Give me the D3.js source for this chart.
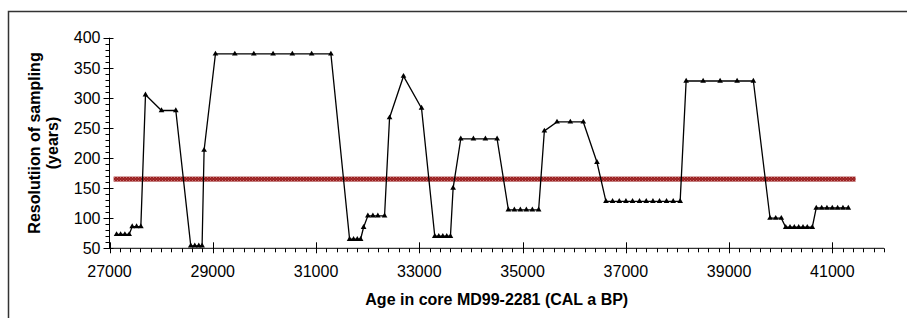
<!DOCTYPE html>
<html>
<head>
<meta charset="utf-8">
<script src="https://cdn.jsdelivr.net/npm/d3@7"></script>
<style>
  html, body { margin: 0; padding: 0; background: #fff; }
  svg { display: block; }
  text { font-family: "Liberation Sans", Arial, sans-serif; fill: #000; }
</style>
</head>
<body>
<svg id="chart" width="907" height="318"></svg>
<script>
// ---- Data ----
const ages = [27137, 27215, 27298, 27381, 27440, 27524, 27607, 27697, 28007, 28284,
  28574, 28652, 28729, 28793, 28832, 29052, 29427, 29795, 30168, 30541, 30915, 31288,
  31650, 31727, 31799, 31863, 31921, 32004, 32101, 32197, 32327, 32424, 32694, 33043,
  33300, 33377, 33455, 33532, 33603, 33655, 33803, 34048, 34280, 34507,
  34725, 34841, 34957, 35073, 35189, 35311, 35422, 35667, 35925, 36176, 36441,
  36615, 36743, 36873, 37002, 37130, 37265, 37395, 37525, 37652, 37788, 37917, 38052,
  38168, 38497, 38826, 39155, 39470, 39793, 39903, 40011,
  40097, 40180, 40263, 40348, 40431, 40514, 40611,
  40688, 40793, 40895, 40998, 41102, 41205, 41308];
const resolution = [73, 73, 73, 73, 86, 86, 86, 305, 279, 279,
  54, 54, 54, 54, 213, 373, 373, 373, 373, 373, 373, 373,
  65, 65, 65, 65, 85, 104, 104, 104, 104, 267, 336, 283,
  70, 70, 70, 70, 70, 150, 232, 232, 232, 232,
  114, 114, 114, 114, 114, 114, 245, 260, 260, 260, 193,
  128, 128, 128, 128, 128, 128, 128, 128, 128, 128, 128, 128,
  328, 328, 328, 328, 328, 100, 100, 100,
  85, 85, 85, 85, 85, 85, 85,
  117, 117, 117, 117, 117, 117, 117];
const thresholdAges = [27080, 41450];
const thresholdValue = 165;
const xTickLabels = [27000, 29000, 31000, 33000, 35000, 37000, 39000, 41000];
const yTickLabels = [50, 100, 150, 200, 250, 300, 350, 400];
const xDomain = [27000, 42000];
const yDomain = [50, 400];
const xTitle = "Age in core MD99-2281 (CAL a BP)";
const yTitleLines = ["Resolutiion of sampling", "(years)"];

// ---- Layout ----
const svg = d3.select("#chart");
const pLeft = 109.5, pRight = 884, pTop = 37.7, pBottom = 248.3;
const x = d3.scaleLinear().domain(xDomain).range([pLeft, pRight]);
const y = d3.scaleLinear().domain(yDomain).range([pBottom, pTop]);

// outer frame
svg.append("rect").attr("x", 8.5).attr("y", 11.5).attr("width", 920).attr("height", 330)
  .attr("fill", "none").attr("stroke", "#333").attr("stroke-width", 1.5);

// pattern for threshold line
const defs = svg.append("defs");
const pat = defs.append("pattern").attr("id", "redpat").attr("patternUnits", "userSpaceOnUse")
  .attr("width", 3).attr("height", 3);
pat.append("rect").attr("width", 3).attr("height", 3).attr("fill", "#9a2020");
pat.append("rect").attr("x", 0).attr("y", 0).attr("width", 1).attr("height", 1).attr("fill", "#c87070");
pat.append("rect").attr("x", 1.5).attr("y", 1.5).attr("width", 1).attr("height", 1).attr("fill", "#b85050");

// threshold line (thick band)
svg.append("rect")
  .attr("x", x(thresholdAges[0])).attr("width", x(thresholdAges[1]) - x(thresholdAges[0]))
  .attr("y", y(thresholdValue) - 2.5).attr("height", 5)
  .attr("fill", "url(#redpat)");

// Y axis
const gy = svg.append("g").attr("transform", `translate(${pLeft},0)`);
gy.append("line").attr("x1", 0).attr("x2", 0).attr("y1", y(yDomain[0])).attr("y2", y(yDomain[1]))
  .attr("stroke", "#000").attr("stroke-width", 1);
const yMinor = d3.range(yDomain[0], yDomain[1] + 0.1, 10);
gy.selectAll(".ymin").data(yMinor).join("line")
  .attr("x1", -4).attr("x2", 0).attr("y1", d => Math.round(y(d)) + 0.5).attr("y2", d => Math.round(y(d)) + 0.5)
  .attr("stroke", "#000").attr("stroke-width", 1);
gy.selectAll(".ymaj").data(yTickLabels).join("line")
  .attr("x1", -6).attr("x2", 4).attr("y1", d => Math.round(y(d)) + 0.5).attr("y2", d => Math.round(y(d)) + 0.5)
  .attr("stroke", "#000").attr("stroke-width", 1);
gy.selectAll(".ylab").data(yTickLabels).join("text")
  .attr("x", -9).attr("y", d => y(d)).attr("dy", "0.36em")
  .attr("text-anchor", "end").attr("font-size", 16).text(d => d);

// X axis
const gx = svg.append("g").attr("transform", `translate(0,${pBottom})`);
gx.append("line").attr("x1", x(xDomain[0])).attr("x2", x(xDomain[1])).attr("y1", 0).attr("y2", 0)
  .attr("stroke", "#000").attr("stroke-width", 1);
const xMinor = d3.range(xDomain[0], xDomain[1] + 1, 200);
gx.selectAll(".xmin").data(xMinor).join("line")
  .attr("x1", d => Math.round(x(d)) + 0.5).attr("x2", d => Math.round(x(d)) + 0.5).attr("y1", 0).attr("y2", 4)
  .attr("stroke", "#000").attr("stroke-width", 1);
gx.selectAll(".xmaj").data(xTickLabels).join("line")
  .attr("x1", d => Math.round(x(d)) + 0.5).attr("x2", d => Math.round(x(d)) + 0.5).attr("y1", -6).attr("y2", 5)
  .attr("stroke", "#000").attr("stroke-width", 1);
gx.selectAll(".xlab").data(xTickLabels).join("text")
  .attr("x", d => x(d)).attr("y", 28.3)
  .attr("text-anchor", "middle").attr("font-size", 16).text(d => d);

// Axis titles
svg.append("text").attr("x", (pLeft + pRight) / 2).attr("y", 305)
  .attr("text-anchor", "middle").attr("font-size", 16).attr("font-weight", "bold").text(xTitle);
const yt = svg.append("text").attr("transform", `translate(0,${(pTop + pBottom) / 2}) rotate(-90)`)
  .attr("text-anchor", "middle").attr("font-size", 16).attr("font-weight", "bold");
yt.selectAll("tspan").data(yTitleLines).join("tspan")
  .attr("x", 0).attr("y", (d, i) => 40 + i * 17.5).text(d => d);

// Data line
const pts = ages.map((a, i) => [a, resolution[i]]);
svg.append("path").datum(pts)
  .attr("d", d3.line().x(d => x(d[0])).y(d => y(d[1])))
  .attr("fill", "none").attr("stroke", "#000").attr("stroke-width", 1.3);
svg.selectAll(".mk").data(pts).join("path")
  .attr("transform", d => `translate(${x(d[0])},${y(d[1])})`)
  .attr("d", d3.symbol().type(d3.symbolTriangle).size(14))
  .attr("fill", "#000");
</script>
</body>
</html>
